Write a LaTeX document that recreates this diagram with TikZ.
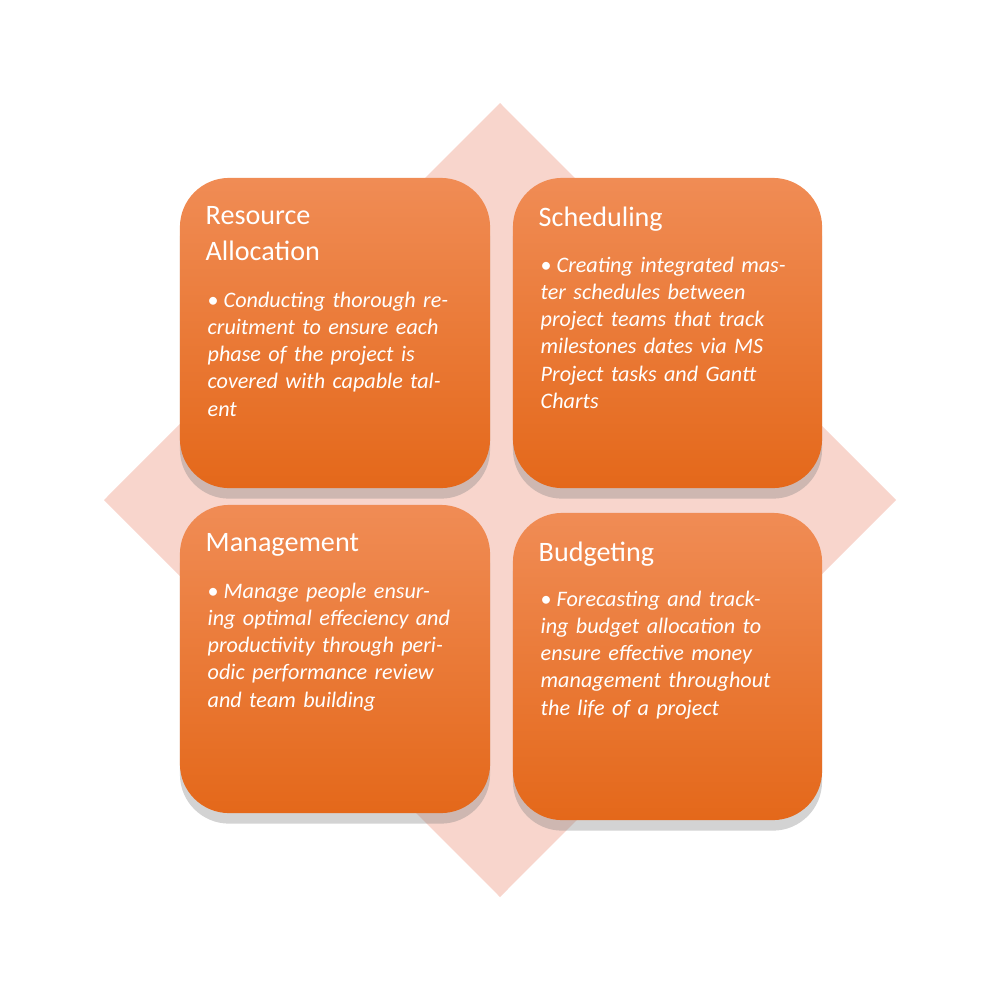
\documentclass[tikz,border=0pt]{standalone}
\usepackage{fontspec}
\setmainfont{Carlito}
\usetikzlibrary{shadows}
\definecolor{dia}{HTML}{F8D5CC}
\definecolor{otop}{HTML}{F08C55}
\definecolor{obot}{HTML}{E4681A}
\tikzset{
 card/.style={rounded corners=14pt, top color=otop, bottom color=obot, draw=none,
   drop shadow={shadow xshift=0pt, shadow yshift=-3pt, opacity=0.35}},
 ttl/.style={anchor=north west, text=white, font=\fontsize{8}{10.2}\selectfont, align=left, inner sep=0pt},
 bdy/.style={anchor=north west, text=white, font=\fontsize{6.3}{7.75}\selectfont\itshape, text width=2.45cm, align=left, inner sep=0pt}
}
\newcommand{\bul}[1]{\hangindent=0.16cm\hangafter=1\noindent\makebox[0.16cm][l]{\upshape\textbullet}#1}
\begin{document}
\begin{tikzpicture}[x=0.01cm,y=-0.01cm]
\useasboundingbox (0,0) rectangle (1000,1000);
\fill[dia] (500,103) -- (896,500) -- (500,897) -- (104,500) -- cycle;
\node[card, minimum width=3.1cm, minimum height=3.1cm] (tl) at (335,333) {};
\node[card, minimum width=3.09cm, minimum height=3.1cm] (tr) at (667.5,333) {};
\node[card, minimum width=3.1cm, minimum height=3.08cm] (bl) at (335,659) {};
\node[card, minimum width=3.09cm, minimum height=3.07cm] (br) at (667.5,666.5) {};
\node[ttl] (t1) at (205,206) {Resource\\Allocation};
\node[bdy] (b1) at (207,291) {\bul{Conducting thorough recruitment to ensure each phase of the project is covered with capable talent}};
\node[ttl] (t2) at (538,206) {Scheduling};
\node[bdy] (b2) at (540,256) {\bul{Creating integrated master schedules between project teams that track milestones dates via MS Project tasks and Gantt Charts}};
\node[ttl] (t3) at (205,533) {Management};
\node[bdy] (b3) at (207,582) {\bul{Manage people ensuring optimal effeciency and productivity through periodic performance review and team building}};
\node[ttl] (t4) at (538,541) {Budgeting};
\node[bdy] (b4) at (540,590) {\bul{Forecasting and tracking budget allocation to ensure effective money management throughout the life of a project}};
\end{tikzpicture}
\end{document}
